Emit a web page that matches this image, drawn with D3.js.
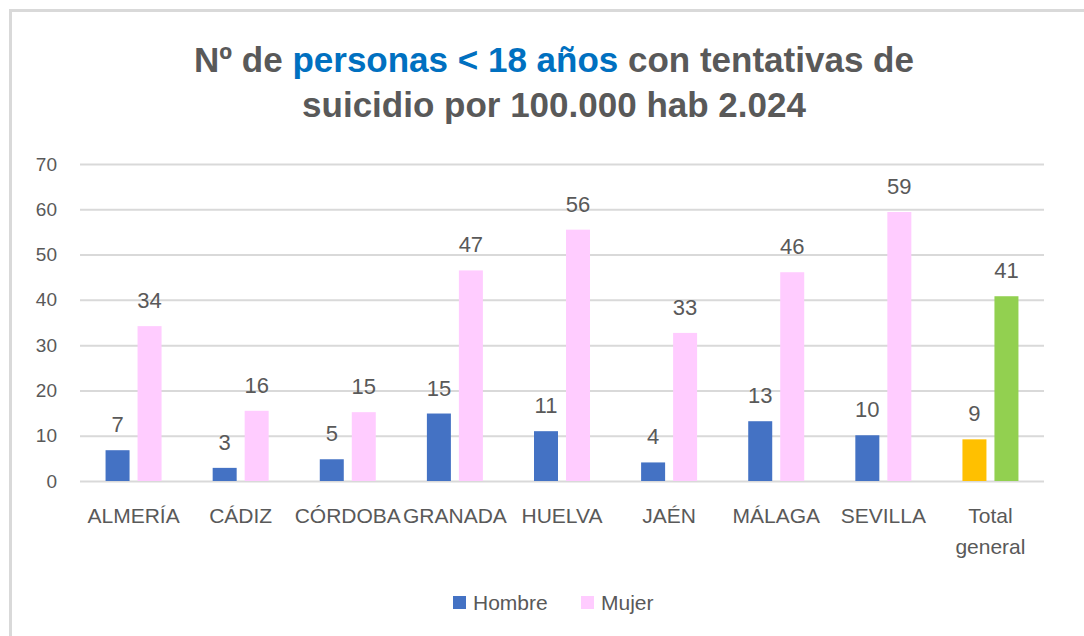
<!DOCTYPE html>
<html>
<head>
<meta charset="utf-8">
<script src="https://cdn.jsdelivr.net/npm/d3@7"></script>
<style>
  body { margin: 0; background: #fff; }
  svg { display: block; }
</style>
</head>
<body>
<div id="root"></div>
<script>
// data
var categories = ["ALMERÍA", "CÁDIZ", "CÓRDOBA", "GRANADA", "HUELVA", "JAÉN", "MÁLAGA", "SEVILLA", "Total general"];
var hombre = [6.8, 2.9, 4.8, 14.9, 11.0, 4.1, 13.2, 10.1, 9.2];
var mujer = [34.2, 15.5, 15.2, 46.5, 55.5, 32.7, 46.1, 59.4, 40.8];
var series = ["Hombre", "Mujer"];
var yTicks = [0, 10, 20, 30, 40, 50, 60, 70];

var width = 1084;
var height = 636;
var textColor = "#595959";
var font = "'Liberation Sans', Arial, sans-serif";

var svg = d3
  .select("#root")
  .append("svg")
  .attr("width", width)
  .attr("height", height)
  .style("font-family", font);

// chart border (right/bottom edges cut off in the reference)
svg
  .append("rect")
  .attr("x", 10.5)
  .attr("y", 10.5)
  .attr("width", width + 20)
  .attr("height", height + 20)
  .attr("fill", "none")
  .attr("stroke", "#d9d9d9")
  .attr("stroke-width", 3);

// title
var title = svg
  .append("text")
  .attr("x", 554)
  .attr("y", 72)
  .attr("text-anchor", "middle")
  .attr("font-size", 35)
  .attr("font-weight", "bold")
  .style("fill", textColor);
title.append("tspan").text("Nº de ");
title.append("tspan").style("fill", "#0070c0").text("personas < 18 años");
title.append("tspan").text(" con tentativas de");
svg
  .append("text")
  .attr("x", 554)
  .attr("y", 117)
  .attr("text-anchor", "middle")
  .attr("font-size", 35)
  .attr("font-weight", "bold")
  .style("fill", textColor)
  .text("suicidio por 100.000 hab 2.024");

// scales
var xScale = d3.scaleBand().domain(categories).range([80, 1044]).padding(0);
var yScale = d3.scaleLinear().domain([0, 70]).range([481, 164]);

// gridlines + y labels
var yAxis = d3
  .axisLeft(yScale)
  .tickValues(yTicks)
  .tickSize(-(1044 - 80))
  .tickPadding(23);
var yG = svg.append("g").attr("transform", "translate(80,0)").call(yAxis);
yG.select(".domain").remove();
yG.selectAll(".tick line").attr("stroke", "#d9d9d9").attr("stroke-width", 2);
yG.selectAll(".tick text")
  .attr("font-size", 19)
  .attr("font-family", font)
  .style("fill", textColor);

// x labels
categories.forEach(function (c) {
  var words = c === "Total general" ? ["Total", "general"] : [c];
  var t = svg
    .append("text")
    .attr("text-anchor", "middle")
    .attr("font-size", 21)
    .style("fill", textColor);
  words.forEach(function (w, j) {
    t.append("tspan")
      .attr("x", xScale(c) + xScale.bandwidth() / 2)
      .attr("y", 523 + j * 31)
      .text(w);
  });
});

// bars
var inner = d3.scaleBand().domain(series).range([0, 56]).paddingInner(0.25);
var colors = { Hombre: "#4472c4", Mujer: "#ffccff" };
var totalColors = { Hombre: "#ffc000", Mujer: "#92d050" };

var rows = categories.map(function (c, i) {
  return { cat: c, values: [{ key: "Hombre", v: hombre[i] }, { key: "Mujer", v: mujer[i] }] };
});

var groups = svg
  .selectAll(".grp")
  .data(rows)
  .enter()
  .append("g")
  .attr("class", "grp")
  .attr("transform", function (d) {
    return "translate(" + (xScale(d.cat) + xScale.bandwidth() / 2 - 28) + ",0)";
  });

groups
  .selectAll("rect")
  .data(function (d) {
    return d.values.map(function (v) {
      return { cat: d.cat, key: v.key, v: v.v };
    });
  })
  .enter()
  .append("rect")
  .attr("x", (d) => inner(d.key))
  .attr("y", (d) => yScale(d.v))
  .attr("width", inner.bandwidth())
  .attr("height", (d) => yScale(0) - yScale(d.v))
  .attr("fill", function (d) {
    return d.cat === "Total general" ? totalColors[d.key] : colors[d.key];
  });

groups
  .selectAll(".lbl")
  .data(function (d) {
    return d.values;
  })
  .enter()
  .append("text")
  .attr("class", "lbl")
  .attr("x", (d) => inner(d.key) + inner.bandwidth() / 2)
  .attr("y", (d) => yScale(d.v) - 18)
  .attr("text-anchor", "middle")
  .attr("font-size", 22)
  .style("fill", textColor)
  .text((d) => d3.format(".0f")(d.v));

// legend
var legend = svg.append("g").attr("transform", "translate(453,596)");
var legendX = [0, 128];
series.forEach(function (s, i) {
  legend
    .append("rect")
    .attr("x", legendX[i])
    .attr("y", 0)
    .attr("width", 13)
    .attr("height", 13)
    .attr("fill", colors[s]);
  legend
    .append("text")
    .attr("x", legendX[i] + 20)
    .attr("y", 14)
    .attr("font-size", 21)
    .style("fill", textColor)
    .text(s);
});
</script>
</body>
</html>
